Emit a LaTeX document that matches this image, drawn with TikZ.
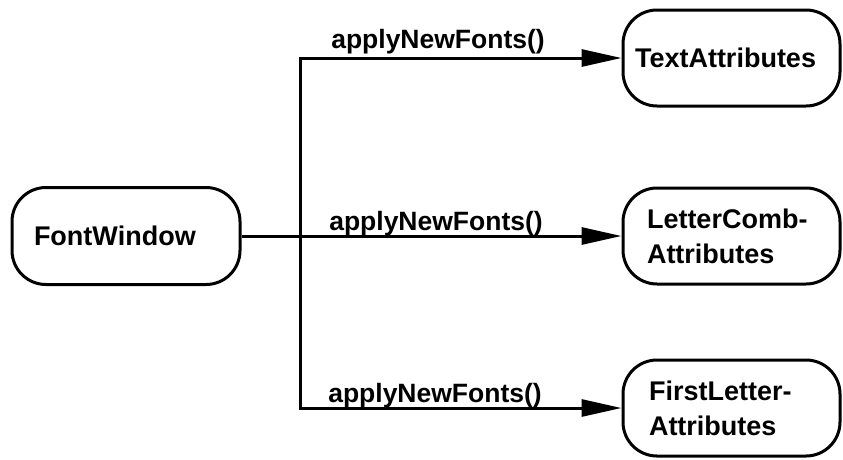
\documentclass[tikz,border=0pt]{standalone}
\usepackage{fontspec}
\setmainfont{Liberation Sans}
\usetikzlibrary{arrows.meta}
\begin{document}
\begin{tikzpicture}[x=1pt,y=-1pt,
  obj/.style={draw, line width=3pt, rounded corners=34pt,
    minimum height=96pt, align=left, font=\fontsize{27}{35}\selectfont\bfseries,
    inner ysep=0pt},
  msg/.style={font=\fontsize{26.5}{30}\selectfont\bfseries, inner sep=0pt},
  link/.style={line width=3pt},
  call/.style={link, -{Triangle[length=40pt,width=17pt]}}]
  \useasboundingbox (0,0) rectangle (843,459);
  % objects
  \node[obj, text width=184pt, inner xsep=22pt, minimum height=97pt] (fw) at (126,236) {FontWindow};
  \node[obj, text width=193pt, inner xsep=12pt] (ta) at (731.5,58) {TextAttributes};
  \node[obj, text width=169pt, inner xsep=24pt] (lc) at (731.5,236) {LetterComb-\\Attributes};
  \node[obj, text width=165pt, inner xsep=26pt] (fl) at (731.5,408) {FirstLetter-\\Attributes};
  % branching point of the message lines
  \coordinate (j) at (300,236);
  \draw[link] (fw.east) -- (j);
  \draw[call] (j) |- (ta.west);
  \draw[call] (j) -- (lc.west);
  \draw[call] (j) |- (fl.west);
  % message labels
  \node[msg] (m1) at (438,42) {applyNewFonts()};
  \node[msg] (m2) at (436,224) {applyNewFonts()};
  \node[msg] (m3) at (435,396) {applyNewFonts()};
\end{tikzpicture}
\end{document}
